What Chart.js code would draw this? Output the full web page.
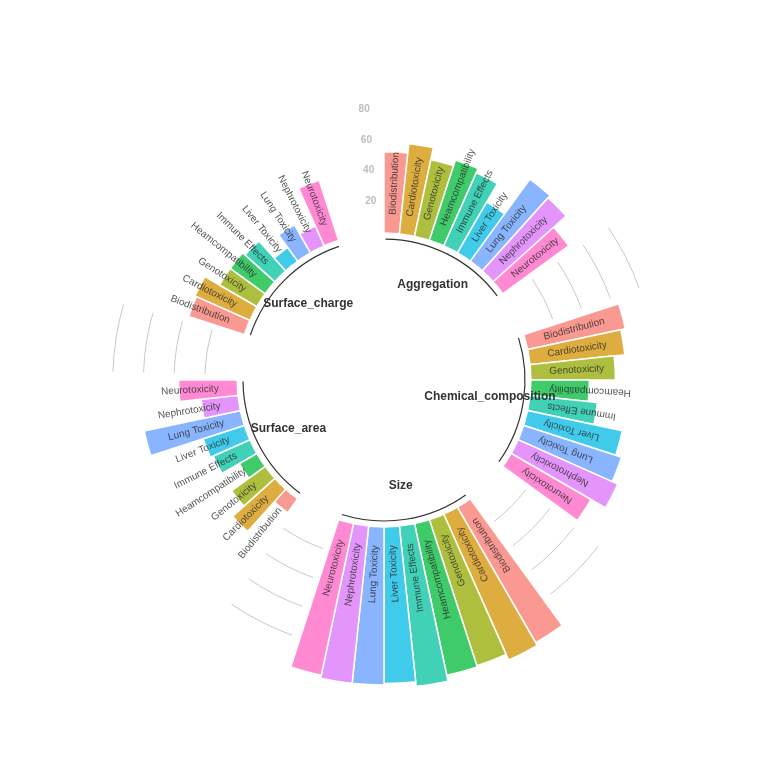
<!DOCTYPE html>
<html>
<head>
<meta charset="utf-8">
<script src="https://cdn.jsdelivr.net/npm/chart.js@4/dist/chart.umd.min.js"></script>
<style>
  body { margin: 0; background: #fff; }
  #wrap { width: 768px; height: 768px; }
</style>
</head>
<body>
<div id="wrap"><canvas id="myChart"></canvas></div>
<script>
// Data
const groups = ['Aggregation', 'Chemical_composition', 'Size', 'Surface_area', 'Surface_charge'];
const effects = ['Biodistribution', 'Cardiotoxicity', 'Genotoxicity', 'Heamcompatibility', 'Immune Effects',
                 'Liver Toxicity', 'Lung Toxicity', 'Nephrotoxicity', 'Neurotoxicity'];
const aggregation = [52, 58, 50, 54, 51, 37, 65, 63, 52];
const chemicalComposition = [64, 61, 54, 37, 43, 62, 66, 70, 59];
const size = [101, 103, 99, 100, 104, 101, 102, 102, 100];
const surfaceArea = [10, 36, 26, 12, 25, 27, 63, 23, 37];
const surfaceCharge = [37, 38, 27, 27, 25, 10, 20, 13, 40];
const tickValues = [20, 40, 60, 80];

const colors = ['#F8766D', '#D39200', '#93AA00', '#00BA38', '#00C19F', '#00B9E3', '#619CFF', '#DB72FB', '#FF61C3'];
const gap = 3;

function alpha(hex, a) {
    const n = parseInt(hex.slice(1), 16);
    return 'rgba(' + (n >> 16) + ',' + ((n >> 8) & 255) + ',' + (n & 255) + ',' + a + ')';
}

// build slots: each group followed by empty gap slots
const series = [aggregation, chemicalComposition, size, surfaceArea, surfaceCharge];
const labels = [], values = [], bg = [], groupSlots = [], gapSlots = [];
series.forEach((vals, g) => {
    const start = labels.length;
    vals.forEach((v, i) => {
        labels.push(effects[i]);
        values.push(v);
        bg.push(alpha(colors[i], 0.75));
    });
    groupSlots.push([start, labels.length - 1]);
    const gs = labels.length;
    for (let k = 0; k < gap; k++) {
        labels.push('');
        values.push(null);
        bg.push('rgba(0,0,0,0)');
    }
    gapSlots.push([gs, labels.length - 1]);
});

const decor = {
    id: 'decor',
    beforeDatasetsDraw(chart) {
        const ctx = chart.ctx, scale = chart.scales.r;
        const cx = scale.xCenter, cy = scale.yCenter;
        const step = 2 * Math.PI / labels.length;
        ctx.save();
        ctx.strokeStyle = '#c8c8c8';
        ctx.lineWidth = 1;
        // grid arcs inside the gaps (except the last gap where tick labels are)
        gapSlots.slice(0, -1).forEach(([a, b]) => {
            const s = a * step - Math.PI / 2 + step * 0.3;
            const e = (b + 1) * step - Math.PI / 2 - step * 0.3;
            tickValues.forEach(t => {
                ctx.beginPath();
                ctx.arc(cx, cy, scale.getDistanceFromCenterForValue(t), s, e);
                ctx.stroke();
            });
        });
        ctx.restore();
    },
    afterDatasetsDraw(chart) {
        const ctx = chart.ctx, scale = chart.scales.r;
        const cx = scale.xCenter, cy = scale.yCenter;
        const step = 2 * Math.PI / labels.length;
        const r0 = scale.getDistanceFromCenterForValue(0);
        ctx.save();
        // hollow centre
        ctx.fillStyle = '#fff';
        ctx.beginPath();
        ctx.arc(cx, cy, r0 - 1, 0, 2 * Math.PI);
        ctx.fill();

        // bar labels
        const rl = scale.getDistanceFromCenterForValue(11);
        ctx.font = '10px "Liberation Sans", Arial, sans-serif';
        ctx.fillStyle = 'rgba(40,40,40,0.8)';
        ctx.textBaseline = 'middle';
        labels.forEach((lab, i) => {
            if (!lab) return;
            const ang = (i + 0.5) * step - Math.PI / 2;
            ctx.save();
            ctx.translate(cx, cy);
            if (Math.cos(ang + Math.PI / 2) >= 0 && (i + 0.5) * step <= Math.PI) {
                ctx.rotate(ang);
                ctx.textAlign = 'left';
                ctx.fillText(lab, rl, 0);
            } else {
                ctx.rotate(ang + Math.PI);
                ctx.textAlign = 'right';
                ctx.fillText(lab, -rl, 0);
            }
            ctx.restore();
        });

        // group arcs and names
        const ra = scale.getDistanceFromCenterForValue(-5);
        const rg = scale.getDistanceFromCenterForValue(-27);
        ctx.strokeStyle = '#333';
        ctx.lineWidth = 1.2;
        ctx.font = 'bold 12px "Liberation Sans", Arial, sans-serif';
        ctx.fillStyle = '#333';
        ctx.textAlign = 'center';
        groupSlots.forEach(([a, b], g) => {
            const s = a * step - Math.PI / 2 + step * 0.1;
            const e = (b + 1) * step - Math.PI / 2 - step * 0.1;
            ctx.beginPath();
            ctx.arc(cx, cy, ra, s, e);
            ctx.stroke();
            const m = (s + e) / 2;
            ctx.fillText(groups[g], cx + rg * Math.cos(m), cy + rg * Math.sin(m));
        });

        // tick labels in the last gap
        const last = gapSlots[gapSlots.length - 1];
        const ta = (last[1] + 0.3) * step - Math.PI / 2;
        ctx.font = 'bold 10px "Liberation Sans", Arial, sans-serif';
        ctx.fillStyle = '#bdbdbd';
        tickValues.forEach(t => {
            const r = scale.getDistanceFromCenterForValue(t);
            ctx.fillText(String(t), cx + r * Math.cos(ta), cy + r * Math.sin(ta));
        });
        ctx.restore();
    }
};

new Chart(document.getElementById('myChart'), {
    type: 'polarArea',
    data: {
        labels: labels,
        datasets: [{
            data: values,
            backgroundColor: bg,
            borderColor: '#fff',
            borderWidth: 1.5
        }]
    },
    options: {
        responsive: true,
        maintainAspectRatio: false,
        animation: false,
        layout: { padding: { bottom: 8 } },
        scales: {
            r: {
                min: -97,
                max: 151,
                ticks: { display: false },
                grid: { display: false },
                angleLines: { display: false },
                pointLabels: { display: false }
            }
        },
        plugins: {
            legend: { display: false },
            tooltip: { enabled: false }
        }
    },
    plugins: [decor]
});
</script>
</body>
</html>
